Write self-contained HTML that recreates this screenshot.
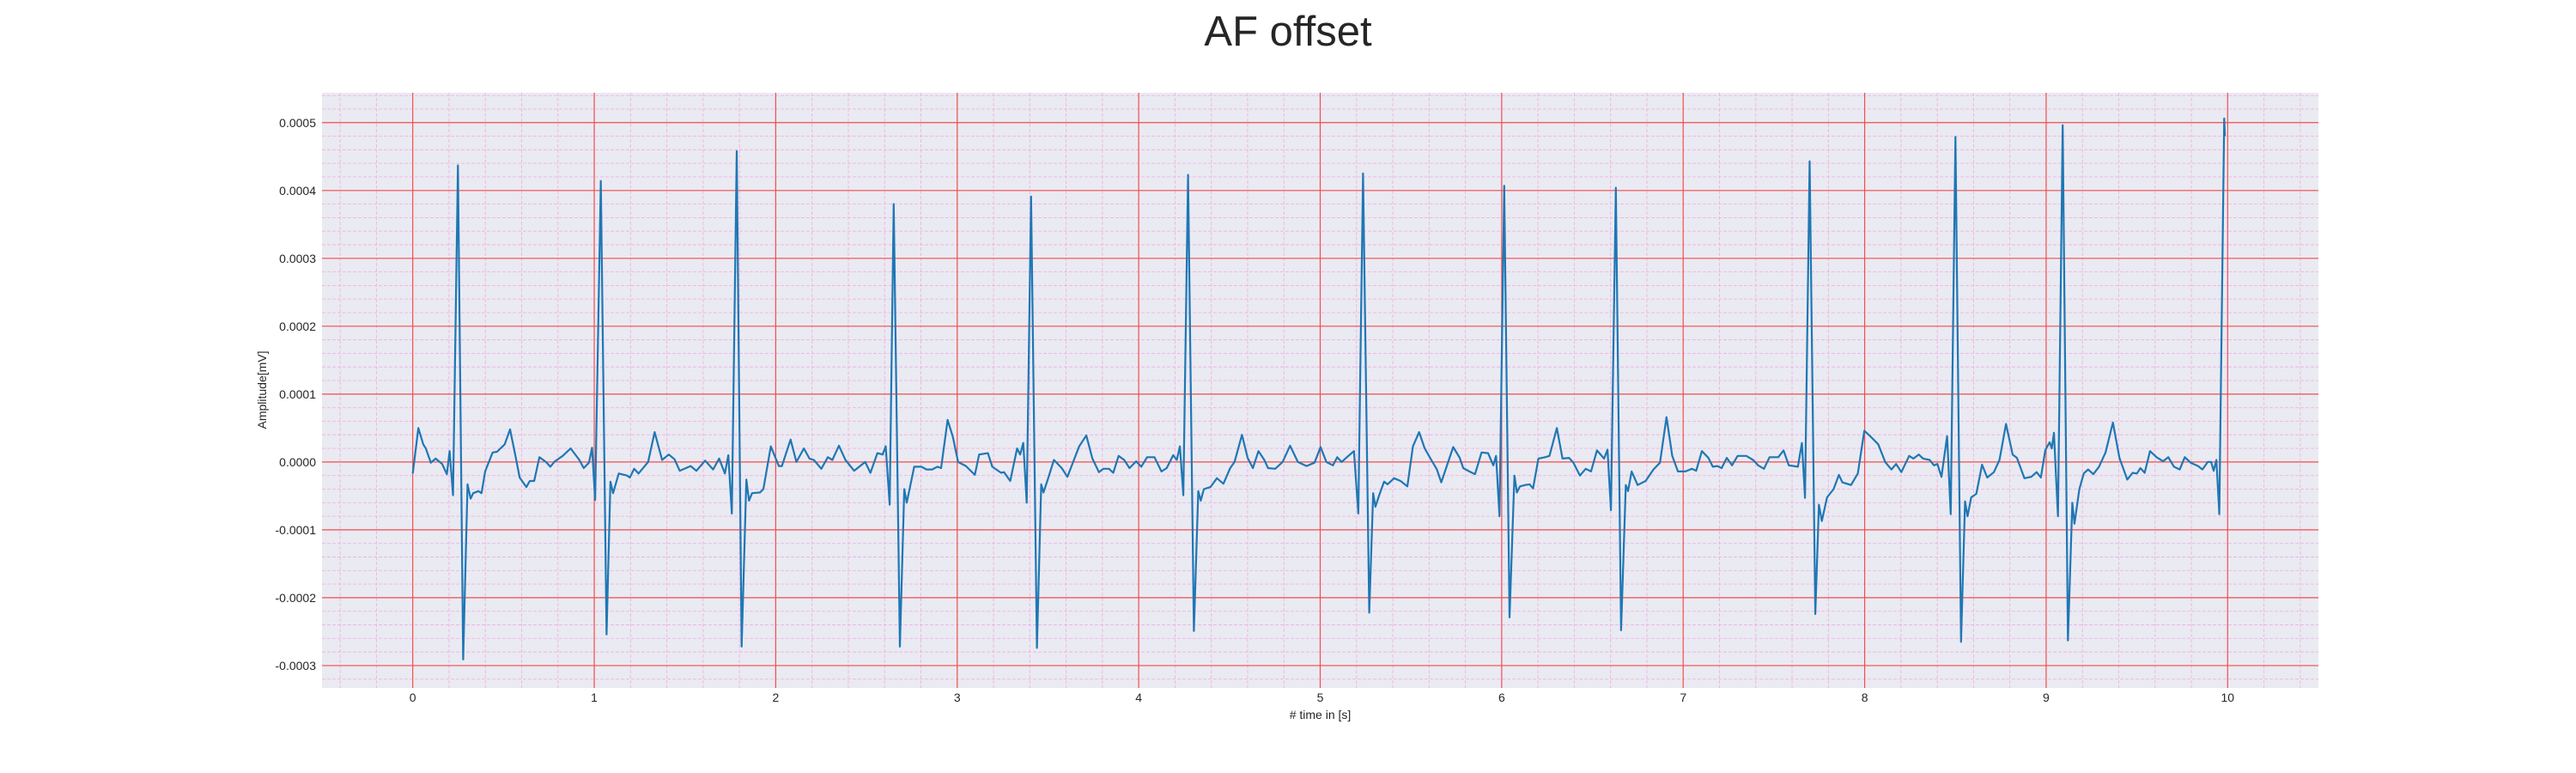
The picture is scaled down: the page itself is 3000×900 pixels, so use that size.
<!DOCTYPE html>
<html><head><meta charset="utf-8"><style>
body{margin:0;background:#fff;}
svg{display:block;font-family:"Liberation Sans",sans-serif;}
</style></head><body>
<svg id="chart" width="3000" height="900" viewBox="0 0 3000 900">
<rect x="375" y="108" width="2325" height="693" fill="#eaeaf2"/>
<g id="grid"></g>
<g id="series"></g>
<g id="ticks"></g>
<text x="1500" y="53" text-anchor="middle" font-size="49" fill="#262626">AF offset</text>
<text x="1537.5" y="837" text-anchor="middle" font-size="14" fill="#262626"># time in [s]</text>
<text x="0" y="0" transform="translate(310,454) rotate(-90)" text-anchor="middle" font-size="14" fill="#262626">Amplitude[mV]</text>
</svg>
<script>
const xTicks=[0,1,2,3,4,5,6,7,8,9,10];
const yTicks=[-0.0003,-0.0002,-0.0001,0,0.0001,0.0002,0.0003,0.0004,0.0005];
const yTickLabels=["-0.0003","-0.0002","-0.0001","0.0000","0.0001","0.0002","0.0003","0.0004","0.0005"];
// time [s]
const times=[0,0.031,0.058,0.072,0.10,0.126,0.162,0.188,0.203,0.222,0.249,0.278,0.302,0.319,0.333,0.362,0.379,0.399,0.44,0.464,0.507,0.536,0.56,0.589,0.626,0.645,0.669,0.698,0.734,0.758,0.783,0.826,0.87,0.918,0.942,0.971,0.988,1.005,1.036,1.068,1.089,1.104,1.135,1.181,1.196,1.22,1.244,1.297,1.333,1.374,1.411,1.442,1.471,1.531,1.563,1.611,1.655,1.688,1.72,1.739,1.758,1.785,1.812,1.838,1.853,1.87,1.913,1.932,1.973,2.017,2.034,2.082,2.114,2.155,2.186,2.21,2.251,2.287,2.312,2.348,2.384,2.432,2.493,2.522,2.56,2.589,2.606,2.628,2.65,2.684,2.708,2.722,2.763,2.802,2.831,2.862,2.891,2.911,2.947,2.976,3.005,3.048,3.097,3.121,3.169,3.193,3.242,3.258,3.292,3.33,3.347,3.364,3.383,3.407,3.439,3.463,3.475,3.499,3.533,3.576,3.607,3.643,3.672,3.711,3.745,3.781,3.805,3.836,3.86,3.889,3.92,3.949,3.986,4.014,4.046,4.087,4.125,4.154,4.19,4.21,4.227,4.246,4.272,4.304,4.328,4.342,4.359,4.395,4.431,4.467,4.504,4.528,4.569,4.60,4.629,4.66,4.692,4.713,4.752,4.793,4.834,4.877,4.925,4.969,5.002,5.034,5.07,5.094,5.118,5.147,5.186,5.21,5.236,5.27,5.292,5.304,5.325,5.352,5.371,5.407,5.443,5.48,5.511,5.545,5.576,5.612,5.643,5.667,5.733,5.769,5.788,5.822,5.853,5.889,5.925,5.954,5.969,5.988,6.014,6.043,6.07,6.084,6.101,6.13,6.154,6.173,6.202,6.239,6.263,6.304,6.335,6.371,6.395,6.431,6.463,6.492,6.525,6.564,6.583,6.602,6.629,6.658,6.684,6.696,6.716,6.749,6.793,6.836,6.872,6.908,6.94,6.971,7.012,7.048,7.072,7.103,7.139,7.163,7.188,7.212,7.24,7.269,7.30,7.348,7.385,7.413,7.445,7.476,7.524,7.553,7.582,7.632,7.654,7.671,7.697,7.728,7.748,7.764,7.793,7.829,7.858,7.877,7.901,7.925,7.962,7.998,8.034,8.075,8.113,8.147,8.173,8.202,8.245,8.269,8.298,8.322,8.358,8.382,8.401,8.423,8.454,8.474,8.50,8.531,8.553,8.567,8.587,8.615,8.647,8.675,8.712,8.743,8.779,8.815,8.839,8.88,8.918,8.947,8.971,8.995,9.019,9.031,9.043,9.065,9.091,9.12,9.144,9.156,9.183,9.207,9.231,9.26,9.291,9.327,9.368,9.404,9.447,9.476,9.50,9.519,9.543,9.572,9.608,9.644,9.673,9.704,9.736,9.764,9.796,9.837,9.861,9.89,9.909,9.923,9.938,9.954,9.981,9.985];
// amplitude in units of 1e-4 mV
const amps=[-0.17,0.50,0.26,0.20,-0.01,0.05,-0.03,-0.18,0.16,-0.49,4.37,-2.91,-0.33,-0.54,-0.46,-0.43,-0.46,-0.14,0.14,0.15,0.26,0.48,0.17,-0.23,-0.37,-0.28,-0.28,0.07,0,-0.07,0.01,0.09,0.20,0.03,-0.09,-0.01,0.21,-0.56,4.14,-2.54,-0.29,-0.46,-0.17,-0.20,-0.23,-0.10,-0.17,0,0.44,0.03,0.11,0.04,-0.13,-0.06,-0.13,0.02,-0.11,0.05,-0.17,0.10,-0.76,4.58,-2.72,-0.26,-0.57,-0.46,-0.45,-0.40,0.23,-0.06,-0.06,0.33,0,0.20,0.05,0.03,-0.10,0.07,0.03,0.24,0.03,-0.13,0,-0.16,0.13,0.11,0.23,-0.63,3.80,-2.72,-0.40,-0.60,-0.07,-0.07,-0.11,-0.11,-0.07,-0.09,0.62,0.37,0,-0.06,-0.19,0.11,0.13,-0.07,-0.16,-0.15,-0.28,0.20,0.11,0.28,-0.60,3.91,-2.74,-0.33,-0.45,-0.26,0.03,-0.09,-0.22,0.03,0.23,0.39,0.05,-0.15,-0.10,-0.10,-0.16,0.09,0.03,-0.09,0.01,-0.07,0.07,0.07,-0.14,-0.09,0.10,0.03,0.23,-0.49,4.23,-2.49,-0.43,-0.57,-0.40,-0.37,-0.24,-0.32,-0.09,0,0.40,0.06,-0.09,0.16,0.03,-0.09,-0.10,0,0.24,0,-0.06,-0.01,0.22,0,-0.05,0.07,0,0.07,0.16,-0.76,4.25,-2.22,-0.46,-0.66,-0.49,-0.29,-0.33,-0.24,-0.28,-0.36,0.23,0.44,0.20,0.03,-0.11,-0.30,0.22,0.06,-0.09,-0.14,-0.18,0.14,0.13,-0.05,0.09,-0.80,4.07,-2.29,-0.20,-0.45,-0.36,-0.34,-0.33,-0.39,0.05,0.07,0.09,0.50,0.05,0.06,-0.01,-0.20,-0.10,-0.14,0.17,0.05,0.18,-0.71,4.04,-2.48,-0.34,-0.43,-0.14,-0.34,-0.28,-0.11,-0.01,0.66,0.09,-0.14,-0.14,-0.10,-0.13,0.16,0.06,-0.07,-0.06,-0.09,0.06,-0.05,0.09,0.09,0.03,-0.05,-0.10,0.07,0.07,0.17,-0.05,-0.07,0.28,-0.53,4.43,-2.24,-0.63,-0.87,-0.52,-0.40,-0.19,-0.30,-0.32,-0.34,-0.17,0.46,0.37,0.26,0,-0.11,-0.03,-0.15,0.09,0.05,0.11,0.05,0.03,-0.05,-0.03,-0.22,0.38,-0.77,4.79,-2.65,-0.58,-0.80,-0.52,-0.47,-0.04,-0.23,-0.15,0.03,0.56,0.11,0.06,-0.24,-0.22,-0.15,-0.23,0.17,0.29,0.20,0.43,-0.80,4.96,-2.63,-0.60,-0.91,-0.40,-0.17,-0.11,-0.18,-0.07,0.14,0.58,0.06,-0.26,-0.16,-0.17,-0.09,-0.16,0.16,0.07,0.01,0.07,-0.07,-0.11,0.07,-0.01,-0.06,-0.11,0,0,-0.13,0.03,-0.77,5.06,4.80];

const X0=375,X1=2700,Y0=108,Y1=801;
const xMin=-0.5,xMax=10.5,yMin=-0.000333,yMax=0.000544;
function sx(t){return X0+(t-xMin)/(xMax-xMin)*(X1-X0);}
function sy(v){return Y1-(v-yMin)/(yMax-yMin)*(Y1-Y0);}
const NS="http://www.w3.org/2000/svg";
const grid=document.getElementById('grid'),ticks=document.getElementById('ticks'),series=document.getElementById('series');
function mk(tag,attrs,parent){const e=document.createElementNS(NS,tag);for(const k in attrs)e.setAttribute(k,attrs[k]);parent.appendChild(e);return e;}
for(let i=-2;i<=52;i++){const t=i*0.2;if(i%5===0)continue;const x=sx(t);if(x<X0||x>X1)continue;
 const l=mk('line',{x1:x,x2:x,y1:Y0,y2:Y1,stroke:'#f0b4e2','stroke-width':0.9,'stroke-dasharray':'4,2'},grid);
 
 }
for(let i=-17;i<=27;i++){if(i%5===0)continue;const v=i*0.00002;const y=sy(v);if(y<Y0||y>Y1)continue;
 const l=mk('line',{x1:X0,x2:X1,y1:y,y2:y,stroke:'#f0b4e2','stroke-width':0.9,'stroke-dasharray':'4,2'},grid);
 
 }
xTicks.forEach(t=>{const x=sx(t);
 const l=mk('line',{x1:x,x2:x,y1:Y0,y2:Y1,stroke:'#f24c4c','stroke-width':1.2},grid);
 
 
 const tx=mk('text',{x:x,y:817,'text-anchor':'middle','font-size':14,fill:'#262626'},ticks);tx.textContent=String(t);
 
 });
yTicks.forEach((v,i)=>{const y=sy(v);
 const l=mk('line',{x1:X0,x2:X1,y1:y,y2:y,stroke:'#f24c4c','stroke-width':1.2},grid);
 
 
 const tx=mk('text',{x:368,y:y+5,'text-anchor':'end','font-size':14,fill:'#262626'},ticks);tx.textContent=yTickLabels[i];
 
 });
let d='';times.forEach((t,i)=>{d+=(i?'L':'M')+sx(t).toFixed(1)+','+sy(amps[i]*1e-4).toFixed(1);});
const p=mk('path',{d:d,fill:'none',stroke:'#1f77b4','stroke-width':2.2,'stroke-linejoin':'round'},series);


</script>
</body></html>
